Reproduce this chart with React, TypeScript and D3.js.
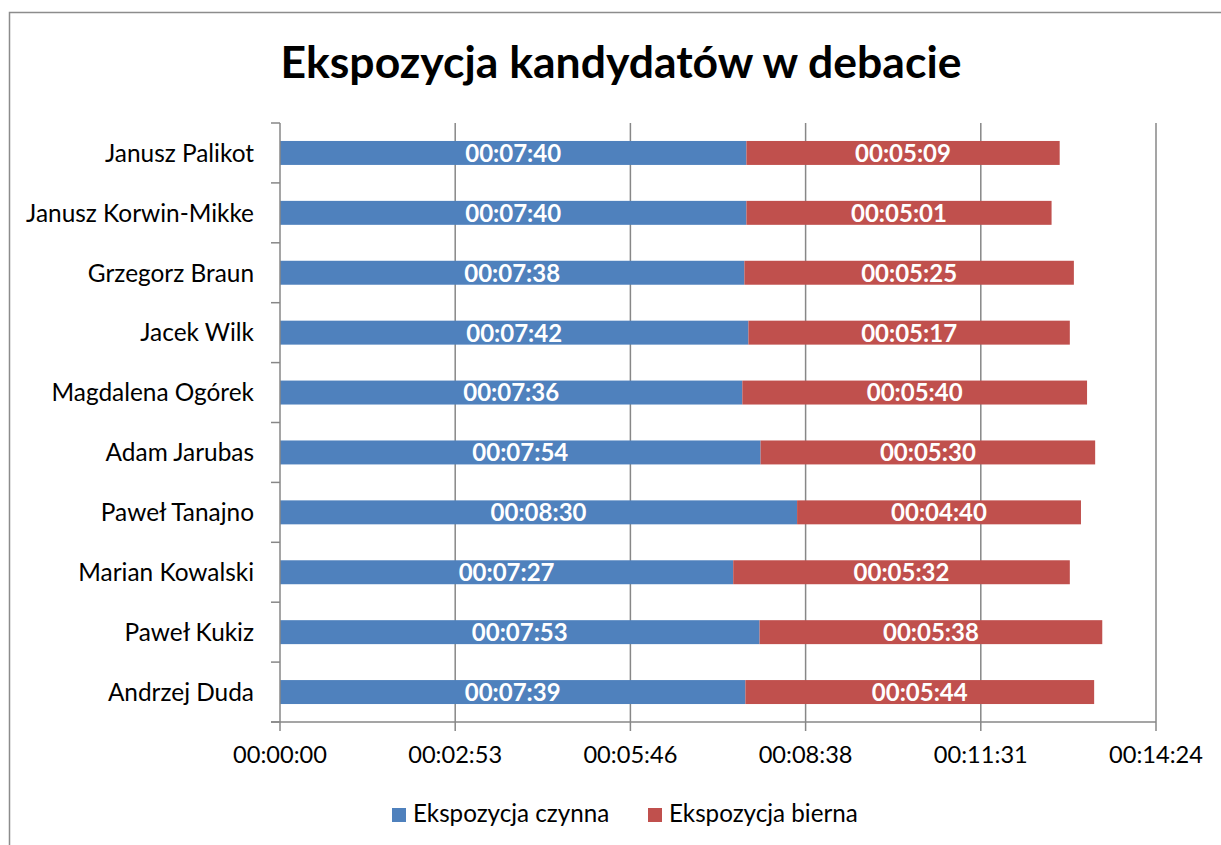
import React from 'react';
import * as d3 from 'd3';

// candidates, top to bottom as in the chart
const candidates = [
  'Janusz Palikot',
  'Janusz Korwin-Mikke',
  'Grzegorz Braun',
  'Jacek Wilk',
  'Magdalena Ogórek',
  'Adam Jarubas',
  'Paweł Tanajno',
  'Marian Kowalski',
  'Paweł Kukiz',
  'Andrzej Duda',
];
const activeTime = ['00:07:40', '00:07:40', '00:07:38', '00:07:42', '00:07:36', '00:07:54', '00:08:30', '00:07:27', '00:07:53', '00:07:39'];
const passiveTime = ['00:05:09', '00:05:01', '00:05:25', '00:05:17', '00:05:40', '00:05:30', '00:04:40', '00:05:32', '00:05:38', '00:05:44'];
const seriesNames = ['Ekspozycja czynna', 'Ekspozycja bierna'];
const tickLabels = ['00:00:00', '00:02:53', '00:05:46', '00:08:38', '00:11:31', '00:14:24'];
const tickStep = 172.8; // seconds (0.002 day)

const toSec = (s: string) => {
  const [h, m, sec] = s.split(':').map(Number);
  return h * 3600 + m * 60 + sec;
};

const BLUE = '#4f81bd';
const RED = '#c0504d';
const GRID = '#878787';
const FONT = 'Lato, "Open Sans", sans-serif';

const App = () => {
  const width = 1221;
  const height = 845;
  const margin = { top: 123, right: 65, bottom: 123, left: 280 };

  const rows = candidates.map((name, i) => ({
    name,
    a: toSec(activeTime[i]),
    p: toSec(passiveTime[i]),
    aLabel: activeTime[i],
    pLabel: passiveTime[i],
  }));

  const tickValues = tickLabels.map((_, i) => i * tickStep);

  const x = d3.scaleLinear()
    .domain([0, tickValues[tickValues.length - 1]])
    .range([margin.left, width - margin.right]);

  const y = d3.scaleBand()
    .domain(candidates)
    .range([margin.top, height - margin.bottom])
    .paddingInner(0.6)
    .paddingOuter(0.3);

  const y0 = margin.top;
  const y1 = height - margin.bottom;
  const boundaries = d3.range(candidates.length + 1).map(i => y0 + i * ((y1 - y0) / candidates.length));

  return (
    <svg width={width} height={height} style={{ position: 'absolute', left: 0, top: 0, background: '#fff' }} fontFamily={FONT}>
      {/* chart border */}
      <rect x={9.5} y={12.5} width={width + 10} height={height + 10} fill="none" stroke="#8c8c8c" strokeWidth={1.5} />

      <text x={621} y={78} textAnchor="middle" fontSize={44.5} fontWeight="bold" fill="#000">
        Ekspozycja kandydatów w debacie
      </text>

      {/* gridlines */}
      {tickValues.slice(1).map((t, i) => (
        <line key={i} x1={x(t)} x2={x(t)} y1={y0} y2={y1 + 9} stroke={GRID} strokeWidth={1.5} />
      ))}

      {/* bars */}
      {rows.map(d => (
        <g key={d.name}>
          <rect x={x(0)} y={y(d.name)} width={x(d.a) - x(0)} height={y.bandwidth()} fill={BLUE} />
          <rect x={x(d.a)} y={y(d.name)} width={x(d.a + d.p) - x(d.a)} height={y.bandwidth()} fill={RED} />
          <text x={(x(0) + x(d.a)) / 2} y={y(d.name)! + y.bandwidth() / 2} dy="0.37em" textAnchor="middle"
            fontSize={24} fontWeight="bold" fill="#fff">{d.aLabel}</text>
          <text x={(x(d.a) + x(d.a + d.p)) / 2} y={y(d.name)! + y.bandwidth() / 2} dy="0.37em" textAnchor="middle"
            fontSize={24} fontWeight="bold" fill="#fff">{d.pLabel}</text>
        </g>
      ))}

      {/* left axis */}
      <line x1={x(0)} x2={x(0)} y1={y0} y2={y1 + 9} stroke={GRID} strokeWidth={1.5} />
      {boundaries.map((b, i) => (
        <line key={i} x1={x(0) - 9} x2={x(0)} y1={b} y2={b} stroke={GRID} strokeWidth={1.5} />
      ))}
      {candidates.map(c => (
        <text key={c} x={x(0) - 26} y={y(c)! + y.bandwidth() / 2} dy="0.36em" textAnchor="end" fontSize={24.4} fill="#000">
          {c}
        </text>
      ))}

      {/* bottom axis */}
      <line x1={x(0) - 9} x2={x(tickValues[tickValues.length - 1])} y1={y1} y2={y1} stroke={GRID} strokeWidth={1.5} />
      {tickValues.map((t, i) => (
        <text key={i} x={x(t)} y={763} textAnchor="middle" fontSize={23.6} fill="#000">{tickLabels[i]}</text>
      ))}

      {/* legend */}
      {seriesNames.map((s, i) => {
        const lx = i === 0 ? 392 : 648;
        return (
          <g key={s}>
            <rect x={lx} y={808} width={14} height={14} fill={i === 0 ? BLUE : RED} />
            <text x={lx + 21} y={822} fontSize={24.2} fill="#000">{s}</text>
          </g>
        );
      })}
    </svg>
  );
};

export default App;
